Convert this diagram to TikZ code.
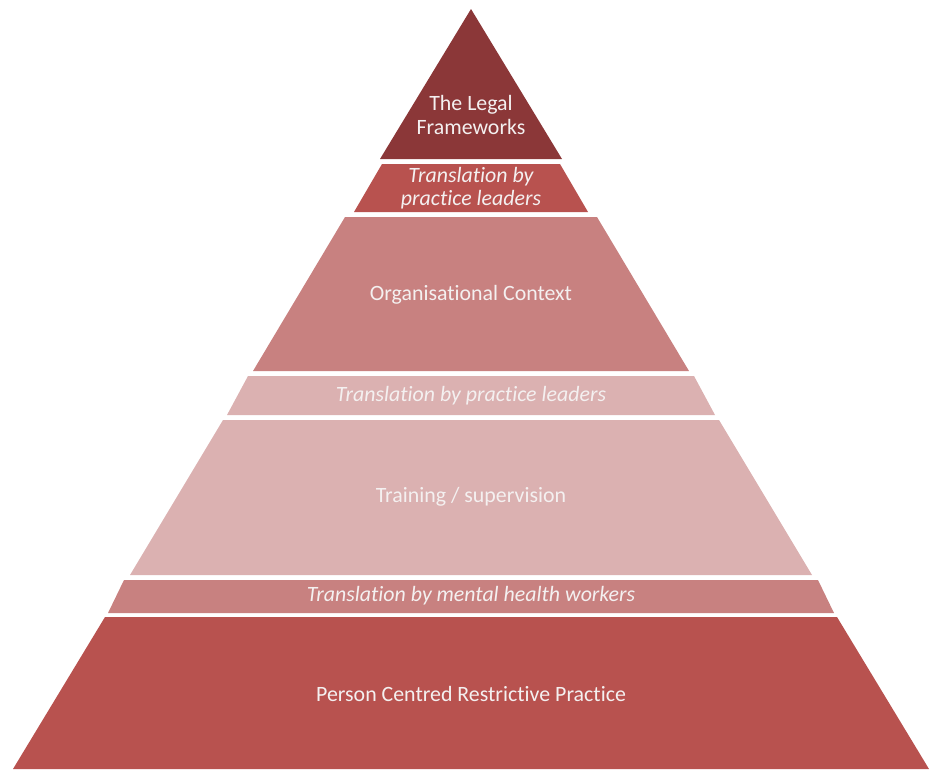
\documentclass[tikz,border=0pt]{standalone}
\usepackage{fontspec}
\setmainfont[RawFeature={-liga}]{Carlito}
\definecolor{cTop}{HTML}{8B3738}
\definecolor{cDark}{HTML}{B8524F}
\definecolor{cMid}{HTML}{C88180}
\definecolor{cLight}{HTML}{DBB1B1}
\definecolor{cText}{HTML}{F4F0F0}
\begin{document}
\begin{tikzpicture}[x=0.75pt,y=-0.75pt,
  lbl/.style={text=cText,align=center,font=\fontsize{16.4}{18}\selectfont,inner sep=0pt},
  ilbl/.style={lbl,font=\fontsize{16.4}{17}\selectfont\itshape}]
\useasboundingbox (0,0) rectangle (930,769);
\fill[cTop]   (471,9) -- (380,159) -- (562,159) -- cycle;
\fill[cDark]  (382,164) -- (560,164) -- (588,212) -- (354,212) -- cycle;
\fill[cMid]   (345,217) -- (597,217) -- (689,371) -- (253,371) -- cycle;
\fill[cLight] (248,376) -- (694,376) -- (715,415) -- (227,415) -- cycle;
\fill[cLight] (223,420) -- (719,420) -- (812,575) -- (130,575) -- cycle;
\fill[cMid]   (124,580) -- (818,580) -- (834,613) -- (108,613) -- cycle;
\fill[cDark]  (105,617) -- (837,617) -- (929,769) -- (13,769) -- cycle;
\node[lbl] (legal) at (471,115) {The Legal\\Frameworks};
\node[ilbl] (tr1) at (471,188) {Translation by\\practice leaders};
\node[lbl] (org) at (471,295) {Organisational Context};
\node[ilbl] (tr2) at (471,396) {Translation by practice leaders};
\node[lbl] (train) at (471,497) {Training / supervision};
\node[ilbl] (tr3) at (471,596) {Translation by mental health workers};
\node[lbl] (person) at (471,694) {Person Centred Restrictive Practice};
\end{tikzpicture}
\end{document}
